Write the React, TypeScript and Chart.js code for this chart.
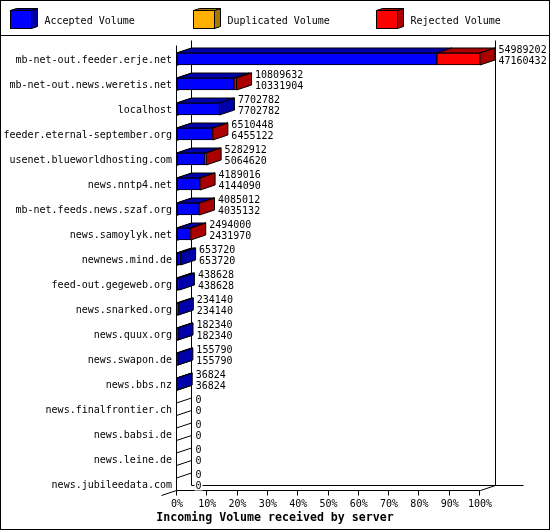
import React, { useEffect, useRef } from 'react';
import { Chart, registerables, Plugin } from 'chart.js';

Chart.register(...registerables);

const servers = [
  'mb-net-out.feeder.erje.net',
  'mb-net-out.news.weretis.net',
  'localhost',
  'feeder.eternal-september.org',
  'usenet.blueworldhosting.com',
  'news.nntp4.net',
  'mb-net.feeds.news.szaf.org',
  'news.samoylyk.net',
  'newnews.mind.de',
  'feed-out.gegeweb.org',
  'news.snarked.org',
  'news.quux.org',
  'news.swapon.de',
  'news.bbs.nz',
  'news.finalfrontier.ch',
  'news.babsi.de',
  'news.leine.de',
  'news.jubileedata.com',
];
const offered = [54989202, 10809632, 7702782, 6510448, 5282912, 4189016, 4085012, 2494000, 653720, 438628, 234140, 182340, 155790, 36824, 0, 0, 0, 0];
const accepted = [47160432, 10331904, 7702782, 6455122, 5064620, 4144090, 4035132, 2431970, 653720, 438628, 234140, 182340, 155790, 36824, 0, 0, 0, 0];
const duplicated = [0, 0, 0, 0, 0, 0, 0, 0, 0, 0, 0, 0, 0, 0, 0, 0, 0, 0];
const rejected = [7828770, 477728, 0, 55326, 218292, 44926, 49880, 62030, 0, 0, 0, 0, 0, 0, 0, 0, 0, 0];

const seriesNames = ['Accepted Volume', 'Duplicated Volume', 'Rejected Volume'];
const frontColors = ['#0000ff', '#ffb000', '#ff0000'];
const shadeColors = ['#0000aa', '#aa7700', '#aa0000'];
const legendX = [10.5, 193.5, 376.5];

const axisTitle = 'Incoming Volume received by server';
const MONO = '"DejaVu Sans Mono", monospace';
const DX = 15;
const DY = 5;

const poly = (ctx: CanvasRenderingContext2D, pts: number[][], fill?: string) => {
  ctx.beginPath();
  pts.forEach((p, i) => (i ? ctx.lineTo(p[0], p[1]) : ctx.moveTo(p[0], p[1])));
  ctx.closePath();
  if (fill) {
    ctx.fillStyle = fill;
    ctx.fill();
  }
  ctx.stroke();
};

const line = (ctx: CanvasRenderingContext2D, x1: number, y1: number, x2: number, y2: number) => {
  ctx.beginPath();
  ctx.moveTo(x1, y1);
  ctx.lineTo(x2, y2);
  ctx.stroke();
};

// the 3d walls, bar tops/sides and legend are not something chart.js does by itself
const box3d: Plugin<'bar'> = {
  id: 'box3d',
  beforeDraw(chart) {
    const ctx = chart.ctx;
    ctx.save();
    ctx.fillStyle = '#fff';
    ctx.fillRect(0, 0, chart.width, chart.height);
    ctx.strokeStyle = '#000';
    ctx.lineWidth = 1;
    ctx.strokeRect(0.5, 0.5, chart.width - 1, chart.height - 1);
    line(ctx, 0, 35.5, chart.width, 35.5);

    // legend
    ctx.font = `10px ${MONO}`;
    ctx.textBaseline = 'middle';
    seriesNames.forEach((name, i) => {
      const x = legendX[i];
      const w = 21;
      const h = 18;
      poly(ctx, [[x + w, 10.5], [x + w + 6, 8.5], [x + w + 6, 26.5], [x + w, 28.5]], shadeColors[i]);
      poly(ctx, [[x, 10.5], [x + 6, 8.5], [x + w + 6, 8.5], [x + w, 10.5]], shadeColors[i]);
      ctx.fillStyle = frontColors[i];
      ctx.fillRect(x, 10.5, w, h);
      ctx.strokeRect(x, 10.5, w, h);
      ctx.fillStyle = '#000';
      ctx.fillText(name, x + 34, 21);
    });

    // axis title
    ctx.font = `bold 11.6px ${MONO}`;
    ctx.textAlign = 'center';
    ctx.fillText(axisTitle, chart.width / 2, 518);
    ctx.restore();
  },
  beforeDatasetsDraw(chart) {
    const ctx = chart.ctx;
    const x = chart.scales.x;
    const area = chart.chartArea;
    const left = Math.round(area.left) - 0.5;
    const right = Math.round(area.right) + 0.5;
    const floor = Math.round(area.bottom - 6.5) + 0.5;
    const step = chart.scales.y.height / servers.length;
    ctx.save();
    ctx.strokeStyle = '#000';
    ctx.lineWidth = 1;

    // walls
    line(ctx, left, floor - 445, left, floor);
    line(ctx, left + DX, floor - DY - 445, left + DX, floor - DY);
    line(ctx, right + DX, floor - DY - 445, right + DX, floor - DY);
    line(ctx, left + DX, floor - DY, right + DX + 28, floor - DY);
    line(ctx, left, floor, right, floor);
    line(ctx, right, floor, right + DX, floor - DY);
    line(ctx, left - DX, floor + DY, left, floor);
    // wall hatching, two per row
    for (let k = 1; k < servers.length * 2; k++) {
      const yy = floor - (step / 2) * k;
      line(ctx, left, yy, left + DX, yy - DY);
    }
    x.ticks.forEach((t) => {
      const px = Math.round(x.getPixelForValue(t.value)) - 0.5;
      line(ctx, px, floor, px, floor + 5);
    });

    // bar tops and end sides
    servers.forEach((_, i) => {
      let last: any = null;
      let lastDs = 0;
      [0, 1, 2].forEach((ds) => {
        const bar: any = chart.getDatasetMeta(ds).data[i];
        const v = chart.data.datasets[ds].data[i] as number;
        if (!v) return;
        const t = bar.y - bar.height / 2;
        poly(ctx, [[bar.base, t], [bar.base + DX, t - DY], [bar.x + DX, t - DY], [bar.x, t]], shadeColors[ds]);
        last = bar;
        lastDs = ds;
      });
      if (last) {
        const t = last.y - last.height / 2;
        const b = last.y + last.height / 2;
        poly(ctx, [[last.x, t], [last.x + DX, t - DY], [last.x + DX, b - DY], [last.x, b]], shadeColors[lastDs]);
      }
    });
    ctx.restore();
  },
  afterDatasetsDraw(chart) {
    const ctx = chart.ctx;
    const x = chart.scales.x;
    const y = chart.scales.y;
    ctx.save();
    ctx.font = `10px ${MONO}`;
    ctx.textBaseline = 'middle';
    const label = (text: string, tx: number, ty: number) => {
      // value labels sit on a white patch, it breaks the floor line under the zeros
      ctx.fillStyle = '#fff';
      ctx.fillRect(tx - 1, ty - 4, ctx.measureText(text).width + 2, 8);
      ctx.fillStyle = '#000';
      ctx.fillText(text, tx, ty);
    };
    servers.forEach((_, i) => {
      const cy = y.getPixelForTick(i);
      const tx = x.getPixelForValue(offered[i]) + DX + 3.5;
      label(String(offered[i]), tx, cy - 8.5);
      label(String(accepted[i]), tx, cy + 2.5);
    });
    ctx.restore();
  },
};

export default function App() {
  const canvasRef = useRef<HTMLCanvasElement>(null);

  useEffect(() => {
    document.body.style.margin = '0';
    if (!canvasRef.current) return;
    const maxVolume = offered[0];
    const chart = new Chart(canvasRef.current, {
      type: 'bar',
      data: {
        labels: servers,
        datasets: [accepted, duplicated, rejected].map((data, i) => ({
          label: seriesNames[i],
          data,
          backgroundColor: frontColors[i],
          borderColor: '#000',
          borderWidth: 1,
          borderSkipped: false,
          barThickness: 12,
        })),
      },
      options: {
        indexAxis: 'y',
        responsive: false,
        animation: false,
        devicePixelRatio: 1,
        layout: { padding: { top: 46.5, right: 70, bottom: 0, left: 0 } },
        plugins: { legend: { display: false }, title: { display: false }, tooltip: { enabled: false } },
        scales: {
          x: {
            stacked: true,
            min: 0,
            max: maxVolume,
            afterFit: (s: any) => { s.height = 33.5; },
            afterBuildTicks: (s: any) => {
              s.ticks = Array.from({ length: 11 }, (_, i) => ({ value: (maxVolume * i) / 10 }));
            },
            grid: { display: false, drawTicks: false },
            border: { display: false },
            ticks: {
              padding: 2,
              maxRotation: 0,
              autoSkip: false,
              color: '#000',
              font: { family: MONO, size: 10 },
              callback: (v: any) => `${Math.round((Number(v) / maxVolume) * 100)}%`,
            },
          },
          y: {
            stacked: true,
            afterFit: (s: any) => { s.width = 177; },
            grid: { display: false, drawTicks: false },
            border: { display: false },
            ticks: {
              padding: 5,
              labelOffset: 1,
              autoSkip: false,
              color: '#000',
              font: { family: MONO, size: 10 },
            },
          },
        },
      },
      plugins: [box3d],
    });
    return () => chart.destroy();
  }, []);

  return <canvas ref={canvasRef} width={550} height={530} style={{ display: 'block' }} />;
}
